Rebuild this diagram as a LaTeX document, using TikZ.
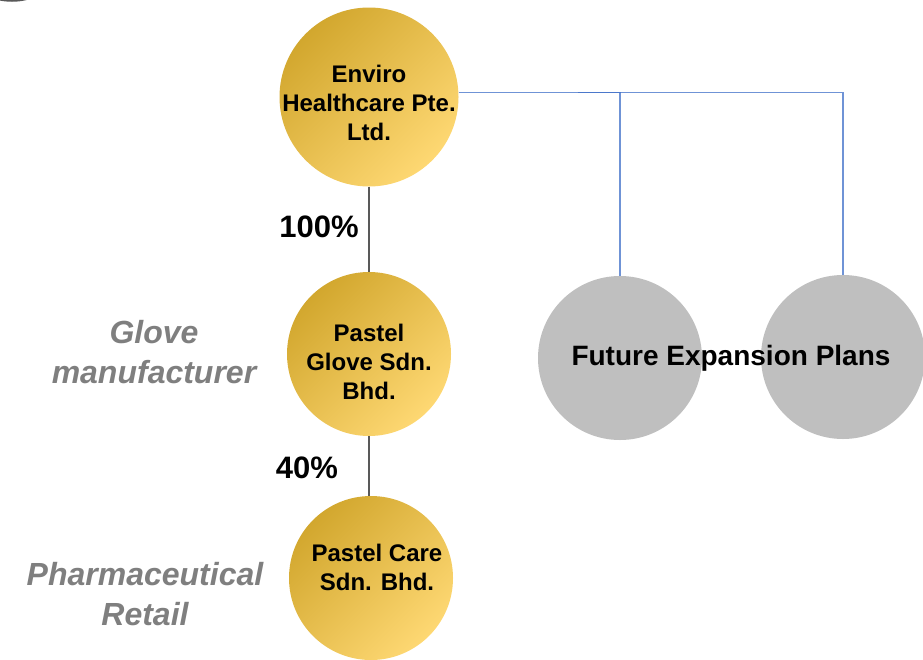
\documentclass[tikz,border=0pt]{standalone}
\usepackage{fontspec}
\setmainfont{Liberation Sans}
\definecolor{golddark}{HTML}{D2A72E}
\definecolor{goldlight}{HTML}{FED873}
\definecolor{plangray}{HTML}{BFBFBF}
\definecolor{notegray}{HTML}{7F7F7F}
\definecolor{linkgray}{HTML}{595959}
\definecolor{feedblue}{HTML}{3F6FC8}
\begin{document}
\begin{tikzpicture}[x=1pt,y=-1pt,
    goldball/.style={circle,inner sep=0pt,top color=golddark,bottom color=goldlight,shading angle=45},
    planball/.style={circle,inner sep=0pt,fill=plangray,minimum size=164pt},
    balltext/.style={align=center,font=\fontsize{24}{29}\selectfont\bfseries},
    share/.style={font=\fontsize{31}{36}\selectfont\bfseries},
    note/.style={align=center,text=notegray,font=\fontsize{32}{40}\selectfont\bfseries\itshape},
    link/.style={draw=linkgray,line width=2.2pt},
    feed/.style={draw=feedblue,draw opacity=0.75,line width=1.5pt}]
  \useasboundingbox (0,0) rectangle (923,659);
  \draw[linkgray,line width=1.5pt] (12,-60) circle (61);
  % owned companies
  \node[goldball,minimum size=179pt] (env) at (369,97) {};
  \node[balltext] (envT) at (369,103) {Enviro\\Healthcare Pte.\\Ltd.};
  \node[goldball,minimum size=164pt] (glove) at (369,354) {};
  \node[balltext] (gloveT) at (369,362) {Pastel\\Glove Sdn.\\Bhd.};
  \node[goldball,minimum size=164pt] (care) at (371,578) {};
  \node[balltext] (careT) at (377,567) {Pastel Care\\Sdn. Bhd.};
  \draw[link] (env.south) -- (glove.north);
  \draw[link] (glove.south) -- (glove.south |- care.north);
  \node[share] (shareA) at (319,227) {100\%};
  \node[share] (shareB) at (307,468) {40\%};
  \node[note] (noteA) at (154,352) {Glove\\manufacturer};
  \node[note] (noteB) at (145,594) {Pharmaceutical\\Retail};
  % future
  \node[planball] (futA) at (620,358) {};
  \node[planball] (futB) at (843,357) {};
  \node[font=\fontsize{28}{33}\selectfont\bfseries] (futT) at (731,358) {Future Expansion Plans};
  \coordinate (fork) at (578,0 |- env.3);
  \draw[feed] (env.3) -| (futA.north);
  \draw[feed] (fork) -| (futB.north);
\end{tikzpicture}
\end{document}
